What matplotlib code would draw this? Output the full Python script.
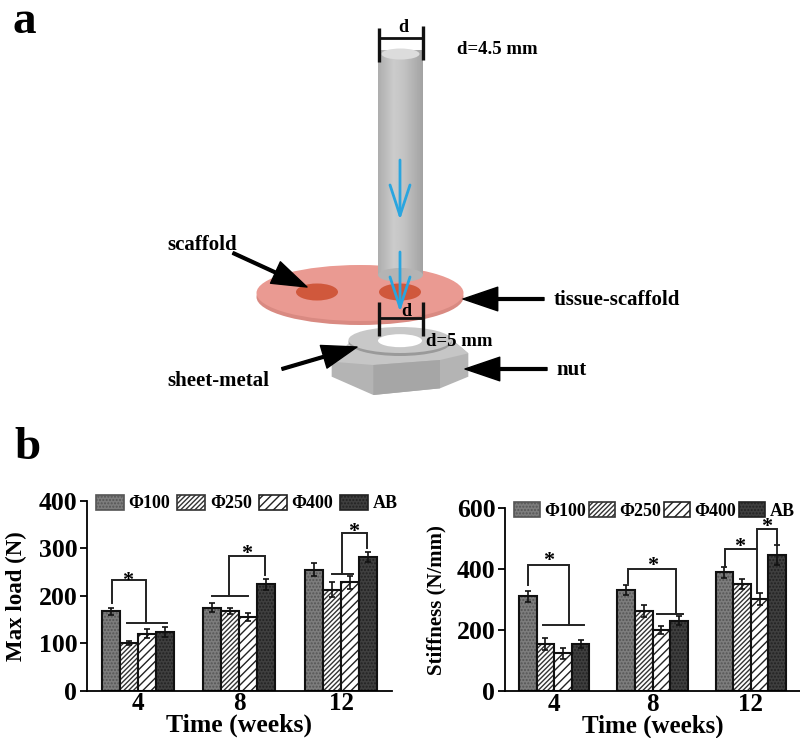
import matplotlib
matplotlib.use('Agg')
import matplotlib.pyplot as plt
import numpy as np
from matplotlib.patches import Ellipse, Polygon, Rectangle

plt.rcParams['font.family'] = 'Liberation Serif'
plt.rcParams['font.weight'] = 'bold'
plt.rcParams['hatch.linewidth'] = 1.0

W, H = 800, 738

weeks = ['4', '8', '12']
groups = ['Φ100', 'Φ250', 'Φ400', 'AB']

# max load (N), one row per group
load = [[167, 175, 255], [100, 168, 213], [120, 155, 228], [124, 224, 282]]
load_err = [[7, 9, 13], [4, 6, 16], [10, 8, 14], [10, 11, 10]]

# stiffness (N/mm)
stiff = [[312, 333, 390], [155, 263, 353], [125, 202, 302], [155, 232, 447]]
stiff_err = [[18, 17, 18], [20, 20, 16], [18, 13, 20], [14, 16, 33]]

colors = ['#7d7d7d', '#ffffff', '#ffffff', '#3f3f3f']
hatches = ['.....', '///////', '////', '.....']
hatch_colors = ['#555555', '#333333', '#222222', '#222222']

# significance brackets, in data units: polyline x, polyline y
load_brackets = [
    ([-0.254, -0.254, 0.084, 0.084], [185, 233, 233, 142]),
    ([-0.103, 0.29], [142, 142]),
    ([0.9, 0.9, 1.25, 1.25], [200, 283, 283, 243]),
    ([0.733, 1.087], [200, 200]),
    ([2.01, 2.01, 2.25, 2.25], [245, 332, 332, 300]),
    ([1.91, 2.12], [245, 245]),
]
load_stars = [(-0.096, 232), (1.07, 288), (2.12, 335)]

stiff_brackets = [
    ([-0.266, -0.266, 0.153, 0.153], [348, 414, 414, 217]),
    ([-0.11, 0.30], [217, 217]),
    ([0.746, 0.746, 1.237, 1.237], [355, 400, 400, 253]),
    ([1.05, 1.31], [253, 253]),
    ([1.735, 1.735, 2.06, 2.06], [408, 467, 467, 323]),
    ([2.06, 2.06, 2.27, 2.27], [467, 532, 532, 482]),
]
stiff_stars = [(-0.054, 426), (1.0, 410), (1.89, 472), (2.16, 540)]


def make_axes(left, right, top, bottom):
    return fig.add_axes([left / W, (H - bottom) / H, (right - left) / W, (bottom - top) / H])


def bar_panel(ax, vals, errs, brackets, stars, ymax, ystep, width, xlim, ylabel, label_size,
              xlabel_size, handle_len, col_space):
    x = np.arange(3)
    handles = []
    for i in range(4):
        pos = x + (i - 1.5) * width
        bars = ax.bar(pos, vals[i], width, color=colors[i], edgecolor=hatch_colors[i],
                      linewidth=1.2, hatch=hatches[i])
        handles.append(bars)
        # hatch takes the edge colour, so the dark outline goes on top
        ax.bar(pos, vals[i], width, fill=False, edgecolor='#111111', linewidth=1.5)
        ax.errorbar(pos, vals[i], yerr=errs[i], fmt='none', ecolor='#111111',
                    elinewidth=1.2, capsize=2.5, capthick=1.2)
    for bx, by in brackets:
        ax.plot(bx, by, color='#222222', lw=1.4, clip_on=False, solid_joinstyle='miter')
    for sx, sy in stars:
        ax.text(sx, sy, '*', fontsize=16, ha='center', va='center', clip_on=False)
    ax.set_xlim(*xlim)
    ax.set_ylim(0, ymax)
    ax.set_xticks(x)
    ax.set_xticklabels(weeks)
    ax.set_yticks(np.arange(0, ymax + 1, ystep))
    ax.tick_params(axis='x', length=0, labelsize=18, pad=1)
    ax.tick_params(axis='y', length=5, width=1.3, labelsize=18.5, pad=2)
    ax.spines['top'].set_visible(False)
    ax.spines['right'].set_visible(False)
    ax.spines['left'].set_linewidth(1.3)
    ax.spines['bottom'].set_linewidth(1.3)
    ax.set_xlabel('Time (weeks)', fontsize=xlabel_size, fontweight='bold', labelpad=-1)
    ax.set_ylabel(ylabel, fontsize=label_size, fontweight='bold')
    ax.yaxis.set_label_coords(-0.197, 0.5)
    ax.legend(handles, groups, ncol=4, loc='center left', bbox_to_anchor=(0.03, 0.985), frameon=False,
              fontsize=13, handlelength=handle_len, handleheight=0.9, handletextpad=0.25,
              columnspacing=col_space, borderpad=0, borderaxespad=0)


fig = plt.figure(figsize=(W / 100, H / 100), dpi=100)

# schematic on a full figure axes, y running downwards in pixels
bg = fig.add_axes([0, 0, 1, 1])
bg.set_xlim(0, W)
bg.set_ylim(H, 0)
bg.axis('off')


def z(px, py):
    return 150 + px / 3, py / 3


# nut
bg.add_patch(Polygon([z(*p) for p in [(545, 1130), (545, 1085), (620, 1005), (890, 1005), (955, 1060),
                                      (955, 1130), (870, 1165), (670, 1185)]],
                     color='#b4b4b4', lw=0))
bg.add_patch(Polygon([z(*p) for p in [(545, 1085), (620, 1005), (890, 1005), (955, 1060), (870, 1080),
                                      (670, 1095)]], color='#c6c6c6', lw=0))
bg.add_patch(Polygon([z(*p) for p in [(670, 1095), (870, 1080), (870, 1165), (670, 1185)]],
                     color='#a6a6a6', lw=0))

# washer
bg.add_patch(Ellipse(z(750, 1026), 103, 28, color='#9a9a9a', lw=0))
bg.add_patch(Ellipse(z(750, 1020), 103, 26, color='#c8c8c8', lw=0))
bg.add_patch(Ellipse(z(750, 1022), 44, 13, color='white', lw=0))

# tissue disc
bg.add_patch(Ellipse((360, 297), 207, 56, color='#d98a82', lw=0))
bg.add_patch(Ellipse((360, 293), 207, 56, color='#ea9a92', lw=0))
bg.add_patch(Ellipse((317, 292), 42, 17, color='#d0583c', lw=0))
bg.add_patch(Ellipse((400, 292), 42, 17, color='#d0583c', lw=0))

# rod, shaded across with a clipped gradient
shade = np.interp(np.linspace(0, 1, 60), [0, 0.35, 0.6, 1], [0.68, 0.80, 0.76, 0.64])
im = bg.imshow(shade[None, :], cmap='gray', vmin=0, vmax=1, extent=(378, 423, 282, 50), aspect='auto', zorder=3)
rod = Rectangle((378, 50), 45, 225, transform=bg.transData)
im.set_clip_path(rod)
bg.add_patch(Ellipse((400.5, 275), 45, 14, color='#b4b4b4', lw=0, zorder=3))
bg.add_patch(Ellipse((400.5, 54), 38, 11, color='#dcdcdc', lw=0, zorder=4))
bg.set_xlim(0, W)
bg.set_ylim(H, 0)

# dimension marks
for xs, ys, lw in [
    ([379, 379], [28, 62], 3), ([423, 423], [26, 60], 3), ([379, 423], [38, 38], 2.5),
    ([379, 379], [302, 336], 3), ([423, 423], [302, 336], 3), ([379, 423], [318, 318], 2.5),
]:
    bg.plot(xs, ys, color='#111111', lw=lw * 0.8, zorder=6, solid_capstyle='butt')

# blue load arrows
for y0, y1 in [(160, 220), (252, 312)]:
    bg.annotate('', xy=(400, y1), xytext=(400, y0), zorder=7,
                arrowprops=dict(arrowstyle='->,head_length=2.2,head_width=0.72', mutation_scale=10,
                                color='#2aa5df', lw=2, shrinkA=0, shrinkB=0))

# pointer arrows
for tip, tail in [((307, 287), (233, 253)), ((463, 299), (544, 299)), ((465, 369), (547, 369)),
                  ((357, 347), (282, 369))]:
    bg.annotate('', xy=tip, xytext=tail, zorder=7,
                arrowprops=dict(width=2, headwidth=17, headlength=25, facecolor='black', edgecolor='black',
                                shrink=0))

for tx, ty, label, size in [
    (403, 27, 'd', 13), (497, 50, 'd=4.5 mm', 13.5), (406, 312, 'd', 13), (459, 341, 'd=5 mm', 13.5),
]:
    bg.text(tx, ty, label, fontsize=size, ha='center', va='center', zorder=8)
for tx, ty, label in [(167, 245, 'scaffold'), (554, 300, 'tissue-scaffold'), (556, 370, 'nut'),
                      (167, 381, 'sheet-metal')]:
    bg.text(tx, ty, label, fontsize=15, ha='left', va='center', zorder=8)
bg.text(12, 33, 'a', fontsize=34, ha='left', va='baseline')
bg.text(14, 459, 'b', fontsize=34, ha='left', va='baseline')

ax1 = make_axes(87, 392, 500.7, 690.7)
bar_panel(ax1, load, load_err, load_brackets, load_stars, 400, 100, 0.177, (-0.497, 2.5),
          'Max load (N)', 16.5, 18.5, 1.55, 0.39)

ax2 = make_axes(505, 800, 508.3, 691.3)
bar_panel(ax2, stiff, stiff_err, stiff_brackets, stiff_stars, 600, 200, 0.179, (-0.5, 2.5),
          'Stiffness (N/mm)', 15, 18, 1.45, 0.14)

fig.savefig('out.png', dpi=100)
